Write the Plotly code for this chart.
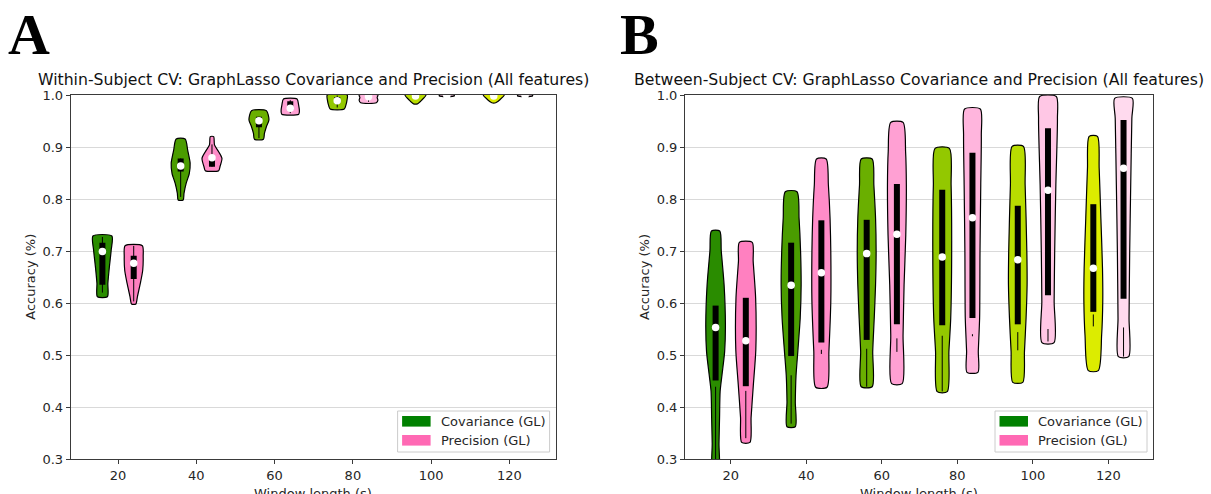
import plotly.graph_objects as go

W, H = 1211, 494
TOP, BOT = 95, 459  # plot area pixel rows

# ---------------- data ----------------
window_ticks = [20, 40, 60, 80, 100, 120]
cov_pos = [16, 36, 56, 76, 96, 116]
prec_pos = [24, 44, 64, 84, 104, 124]
y_ticks = [0.3, 0.4, 0.5, 0.6, 0.7, 0.8, 0.9, 1.0]

cov_colors = ["#2a8c00", "#4a9c00", "#6aaf00", "#93c800", "#b8dc00", "#dcec00"]
prec_colors = ["#ff80c0", "#ff8cc8", "#ffa0d3", "#ffb5dd", "#ffc7e5", "#ffdaee"]

legend_labels = ["Covariance (GL)", "Precision (GL)"]
legend_colors = ["#008000", "#ff69b4"]

# ---- Panel A: within-subject ----
A_cov_median = [0.699, 0.8635, 0.9506, 0.989, 0.998, 0.998]
A_cov_q1 = [0.635, 0.853, 0.938, 0.984, 0.995, 0.995]
A_cov_q3 = [0.716, 0.878, 0.958, 0.996, 1.0, 1.0]
A_cov_wlo = [0.620, 0.804, 0.917, 0.976, 0.995, 0.995]
A_cov_whi = [0.727, 0.878, 0.958, 0.999, 1.0, 1.0]
A_cov_prof_y = [
    [0.612, 0.638, 0.670, 0.702, 0.7288],
    [0.798, 0.811, 0.830, 0.849, 0.869, 0.894, 0.9154],
    [0.9148, 0.926, 0.939, 0.952, 0.9699],
    [0.973, 0.980, 0.990, 1.0],
    [0.983, 0.990, 1.0],
    [0.985, 0.991, 1.0],
]
A_cov_prof_w = [
    [1.28, 1.40, 1.79, 2.25, 2.42],
    [0.64, 0.85, 1.40, 2.20, 2.42, 1.79, 1.15],
    [1.15, 1.40, 1.90, 2.55, 1.91],
    [1.80, 2.20, 2.50, 2.55],
    [0.50, 1.57, 2.68],
    [0.50, 1.57, 2.68],
]

A_prec_median = [0.6763, 0.8795, 0.9744, 0.9968, 0.9988, 0.9988]
A_prec_q1 = [0.646, 0.862, 0.971, 0.993, 0.999, 0.999]
A_prec_q3 = [0.691, 0.884, 0.988, 1.0, 1.0, 1.0]
A_prec_wlo = [0.603, 0.862, 0.965, 0.987, 0.999, 0.999]
A_prec_whi = [0.710, 0.905, 0.990, 1.0, 1.0, 1.0]
A_prec_prof_y = [
    [0.598, 0.612, 0.638, 0.663, 0.689, 0.7102],
    [0.8545, 0.862, 0.878, 0.891, 0.904, 0.920],
    [0.963, 0.969, 0.981, 0.9923],
    [0.985, 0.990, 0.995, 1.0],
    [0.998, 1.0],
    [0.998, 1.0],
]
A_prec_prof_w = [
    [0.55, 0.94, 1.70, 2.30, 2.42, 2.20],
    [1.70, 2.04, 2.55, 1.70, 0.64, 0.43],
    [2.17, 2.34, 2.13, 1.74],
    [2.00, 2.40, 2.20, 2.40],
    [1.90, 1.90],
    [1.90, 1.90],
]

# ---- Panel B: between-subject ----
B_cov_median = [0.553, 0.634, 0.695, 0.6885, 0.6833, 0.6667]
B_cov_q1 = [0.451, 0.498, 0.529, 0.557, 0.559, 0.583]
B_cov_q3 = [0.595, 0.716, 0.760, 0.818, 0.787, 0.790]
B_cov_wlo = [0.270, 0.368, 0.439, 0.430, 0.509, 0.555]
B_cov_whi = [0.439, 0.461, 0.512, 0.537, 0.544, 0.578]
B_cov_prof_y = [
    [0.27, 0.33, 0.38, 0.43, 0.462, 0.507, 0.558, 0.635, 0.70, 0.7385],
    [0.362, 0.41, 0.461, 0.507, 0.571, 0.635, 0.699, 0.763, 0.814],
    [0.439, 0.507, 0.571, 0.635, 0.699, 0.763, 0.827, 0.877],
    [0.4295, 0.507, 0.571, 0.699, 0.827, 0.8974],
    [0.4474, 0.507, 0.571, 0.635, 0.699, 0.827, 0.9013],
    [0.470, 0.538, 0.603, 0.667, 0.763, 0.859, 0.9205],
]
B_cov_prof_w = [
    [0.80, 0.90, 1.05, 1.20, 1.70, 2.40, 2.60, 2.25, 1.50, 1.10],
    [1.10, 1.10, 1.30, 1.77, 2.40, 2.65, 2.50, 2.10, 1.55],
    [1.46, 1.60, 2.00, 2.35, 2.50, 2.35, 1.90, 1.46],
    [1.33, 1.77, 2.25, 2.50, 2.35, 1.90],
    [1.33, 1.77, 2.20, 2.47, 2.40, 1.95, 1.50],
    [1.33, 2.20, 2.50, 2.43, 2.00, 1.55, 1.10],
]

B_prec_median = [0.5275, 0.658, 0.732, 0.764, 0.8167, 0.859]
B_prec_q1 = [0.440, 0.524, 0.559, 0.571, 0.615, 0.608]
B_prec_q3 = [0.610, 0.759, 0.829, 0.889, 0.936, 0.952]
B_prec_wlo = [0.340, 0.502, 0.506, 0.536, 0.526, 0.497]
B_prec_whi = [0.431, 0.510, 0.532, 0.540, 0.550, 0.553]
B_prec_prof_y = [
    [0.332, 0.38, 0.443, 0.51, 0.61, 0.68, 0.7167],
    [0.438, 0.507, 0.603, 0.699, 0.763, 0.827, 0.877],
    [0.445, 0.538, 0.635, 0.731, 0.827, 0.891, 0.9474],
    [0.4667, 0.507, 0.571, 0.699, 0.827, 0.923, 0.973],
    [0.5237, 0.603, 0.699, 0.827, 0.955, 0.997],
    [0.4968, 0.571, 0.699, 0.827, 0.955, 0.9936],
]
B_prec_prof_w = [
    [1.10, 1.40, 2.00, 2.65, 2.60, 1.95, 1.70],
    [1.50, 2.00, 2.50, 2.50, 2.30, 1.86, 1.28],
    [1.41, 1.63, 1.90, 2.35, 2.50, 2.30, 1.63],
    [1.45, 1.55, 1.90, 2.00, 2.20, 2.35, 2.08],
    [1.60, 1.63, 1.77, 2.08, 2.50, 2.20],
    [1.37, 1.46, 1.63, 1.90, 2.20, 2.35],
]

titles = [
    "Within-Subject CV: GraphLasso Covariance and Precision (All features)",
    "Between-Subject CV: GraphLasso Covariance and Precision (All features)",
]
panel_letters = ["A", "B"]
x_label = "Window length (s)"
y_label = "Accuracy (%)"

# ---------------- layout geometry ----------------
FONT = "DejaVu Sans"
AX_L = [70.7, 685.0]
AX_R = [555.6, 1153.0]
X_RANGE = [7.9, 131.8]
PH = BOT - TOP


def pxx(px):
    return px / W


def pxy(py):
    return (BOT - py) / PH


fig = go.Figure()


def add_violins(xa, ya, pos, colors, med, q1, q3, wlo, whi, prof_y, prof_w):
    for i, c in enumerate(pos):
        ys = prof_y[i]
        ws = prof_w[i]
        xs = [c + w for w in ws] + [c - w for w in reversed(ws)] + [c + ws[0]]
        yy = list(ys) + list(reversed(ys)) + [ys[0]]
        fig.add_trace(go.Scatter(
            x=xs, y=yy, mode="lines", fill="toself", fillcolor=colors[i],
            line=dict(color="black", width=1.2, shape="spline", smoothing=0.7),
            xaxis=xa, yaxis=ya, showlegend=False, hoverinfo="skip"))
    wx, wy, bx, by = [], [], [], []
    for i, c in enumerate(pos):
        if whi[i] > wlo[i]:
            wx += [c, c, None]
            wy += [wlo[i], whi[i], None]
        bx += [c, c, None]
        by += [q1[i], q3[i], None]
    fig.add_trace(go.Scatter(x=wx, y=wy, mode="lines", line=dict(color="black", width=1),
                             xaxis=xa, yaxis=ya, showlegend=False, hoverinfo="skip"))
    fig.add_trace(go.Scatter(x=bx, y=by, mode="lines", line=dict(color="black", width=6),
                             xaxis=xa, yaxis=ya, showlegend=False, hoverinfo="skip"))
    fig.add_trace(go.Scatter(x=list(pos), y=med, mode="markers",
                             marker=dict(color="white", size=7.5, line=dict(width=0)),
                             xaxis=xa, yaxis=ya, showlegend=False, hoverinfo="skip"))


add_violins("x", "y", cov_pos, cov_colors, A_cov_median, A_cov_q1, A_cov_q3,
            A_cov_wlo, A_cov_whi, A_cov_prof_y, A_cov_prof_w)
add_violins("x", "y", prec_pos, prec_colors, A_prec_median, A_prec_q1, A_prec_q3,
            A_prec_wlo, A_prec_whi, A_prec_prof_y, A_prec_prof_w)
add_violins("x2", "y2", cov_pos, cov_colors, B_cov_median, B_cov_q1, B_cov_q3,
            B_cov_wlo, B_cov_whi, B_cov_prof_y, B_cov_prof_w)
add_violins("x2", "y2", prec_pos, prec_colors, B_prec_median, B_prec_q1, B_prec_q3,
            B_prec_wlo, B_prec_whi, B_prec_prof_y, B_prec_prof_w)

axis_common = dict(showline=True, mirror=True, linecolor="#3a3a3a", linewidth=1,
                   ticks="outside", ticklen=4, tickcolor="#3a3a3a", tickwidth=1,
                   tickfont=dict(family=FONT, size=13, color="#262626"), zeroline=False)

layout = dict(
    width=W, height=H, paper_bgcolor="white", plot_bgcolor="white",
    margin=dict(l=0, r=0, t=TOP, b=H - BOT, pad=0),
    showlegend=False,
    font=dict(family=FONT, size=13, color="#262626"),
)
for k, (xa, ya) in enumerate([("xaxis", "yaxis"), ("xaxis2", "yaxis2")]):
    layout[xa] = dict(axis_common, domain=[pxx(AX_L[k]), pxx(AX_R[k])], range=X_RANGE,
                      tickvals=window_ticks, showgrid=False,
                      anchor="y" if k == 0 else "y2")
    layout[ya] = dict(axis_common, domain=[0, 1], range=[0.3, 1.0], tickvals=y_ticks,
                      tickformat=".1f", showgrid=True, gridcolor="#d9d9d9", gridwidth=1.2,
                      anchor="x" if k == 0 else "x2")
fig.update_layout(**layout)

shapes = []
annotations = []
for k in range(2):
    cx = (AX_L[k] + AX_R[k]) / 2
    # titles
    annotations.append(dict(text=titles[k], x=pxx(cx), y=pxy(91), xref="paper", yref="paper",
                            xanchor="center", yanchor="bottom", showarrow=False,
                            font=dict(family=FONT, size=15.7, color="#111")))
    # panel letters
    annotations.append(dict(text="<b>" + panel_letters[k] + "</b>",
                            x=pxx([6, 618][k]), y=pxy(35), xref="paper", yref="paper",
                            xanchor="left", yanchor="middle", showarrow=False,
                            font=dict(family="Liberation Serif", size=58, color="black")))
    # axis labels
    annotations.append(dict(text=y_label, x=pxx(AX_L[k] - 41), y=pxy((TOP + BOT) / 2),
                            xref="paper", yref="paper", xanchor="center", yanchor="middle",
                            textangle=-90, showarrow=False,
                            font=dict(family=FONT, size=13, color="#262626")))
    annotations.append(dict(text=x_label, x=pxx(cx), y=pxy(483.5), xref="paper", yref="paper",
                            xanchor="center", yanchor="top", showarrow=False,
                            font=dict(family=FONT, size=13, color="#262626")))
    # legend
    rx = AX_R[k] - 6
    lx = rx - 152
    shapes.append(dict(type="rect", xref="paper", yref="paper", x0=pxx(lx), x1=pxx(rx),
                       y0=pxy(452), y1=pxy(411), fillcolor="white",
                       line=dict(color="#cccccc", width=1)))
    for j in range(2):
        yc = 421.3 + j * 19
        shapes.append(dict(type="rect", xref="paper", yref="paper", x0=pxx(lx + 4.5),
                           x1=pxx(lx + 33), y0=pxy(yc + 5.3), y1=pxy(yc - 5.3),
                           fillcolor=legend_colors[j], line=dict(width=0)))
        annotations.append(dict(text=legend_labels[j], x=pxx(lx + 41), y=pxy(yc),
                                xref="paper", yref="paper", xanchor="left", yanchor="middle",
                                showarrow=False,
                                font=dict(family=FONT, size=13, color="#262626")))
fig.update_layout(shapes=shapes, annotations=annotations)

fig.write_html("out.html", config={"displayModeBar": False},
               post_script="document.body.style.margin='0px';document.body.style.overflow='hidden';")
